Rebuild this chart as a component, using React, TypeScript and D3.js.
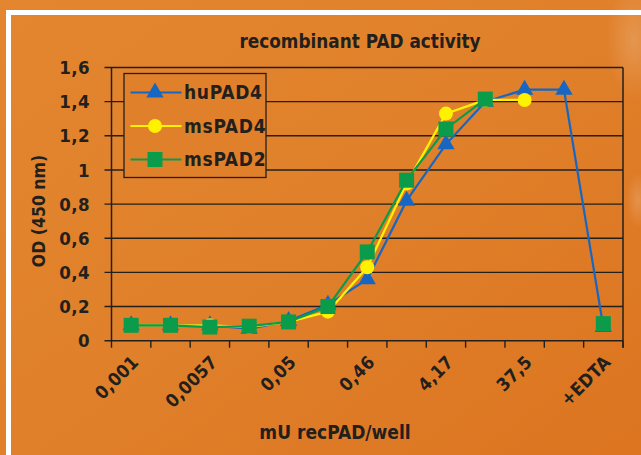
import React from "react";
import * as d3 from "d3";

// concentration categories (only every other one gets a label, like Excel did)
const categories = [
  "0,001", "0,0019", "0,0057", "0,017", "0,05", "0,15", "0,46",
  "1,39", "4,17", "12,5", "37,5", "112,5", "+EDTA",
];

const huPAD4 = [0.09, 0.09, 0.09, 0.07, 0.115, 0.21, 0.36, 0.82, 1.15, 1.4, 1.47, 1.47, 0.08];
const msPAD4 = [0.09, 0.09, 0.09, 0.08, 0.11, 0.17, 0.43, 0.92, 1.33, 1.41, 1.41, null, null];
const msPAD2 = [0.09, 0.09, 0.08, 0.085, 0.11, 0.2, 0.52, 0.94, 1.24, 1.415, null, null, 0.1];

const yTicks = [0, 0.2, 0.4, 0.6, 0.8, 1, 1.2, 1.4, 1.6];

const series = [
  { name: "huPAD4", values: huPAD4, color: "#1767c2", marker: "triangle" },
  { name: "msPAD4", values: msPAD4, color: "#fff200", marker: "circle" },
  { name: "msPAD2", values: msPAD2, color: "#0a9c4a", marker: "square" },
];

const W = 641;
const H = 455;
const font = "'DejaVu Sans Condensed', 'DejaVu Sans', sans-serif";
const ink = "#231f1c";

const plot = { left: 111.5, right: 623, top: 67.5, bottom: 340.7 };

const fmt = (v: number) => String(v).replace(".", ",");

const Marker = ({ type, x, y, color }: { type: string; x: number; y: number; color: string }) => {
  if (type === "triangle") {
    const sym = d3.symbol(d3.symbolTriangle, 130)();
    return <path d={sym || ""} transform={`translate(${x},${y})`} fill={color} />;
  }
  if (type === "circle") return <circle cx={x} cy={y} r={7} fill={color} />;
  return <rect x={x - 7.5} y={y - 7.5} width={15} height={15} fill={color} />;
};

export default function App() {
  const x = d3
    .scaleBand<string>()
    .domain(categories)
    .range([plot.left, plot.right])
    .padding(0);
  const y = d3.scaleLinear().domain([0, 1.6]).range([plot.bottom, plot.top]);

  const cx = (i: number) => (x(categories[i]) as number) + x.bandwidth() / 2;

  const line = d3
    .line<number | null>()
    .defined((d) => d != null)
    .x((_, i) => cx(i))
    .y((d) => y(d as number));

  const tickXs = categories.map((c) => x(c) as number).concat([plot.right]);

  const legend = { x: 124, y: 73.5, w: 142, h: 104 };

  return (
    <div style={{ position: "absolute", left: 0, top: 0 }}>
      <svg width={W} height={H} style={{ display: "block" }}>
        <defs>
          <linearGradient id="bg" x1="0" y1="0" x2="1" y2="1">
            <stop offset="0" stopColor="#e3862f" />
            <stop offset="0.5" stopColor="#e0802a" />
            <stop offset="1" stopColor="#dc7420" />
          </linearGradient>
          <radialGradient id="shine" cx="0.5" cy="0.5" r="0.5">
            <stop offset="0" stopColor="#ffffff" stopOpacity="0.18" />
            <stop offset="1" stopColor="#ffffff" stopOpacity="0" />
          </radialGradient>
        </defs>
        <rect x={0} y={0} width={W} height={H} fill="url(#bg)" />
        <ellipse cx={634} cy={40} rx={28} ry={60} fill="url(#shine)" />
        <ellipse cx={638} cy={200} rx={12} ry={28} fill="url(#shine)" />
        {/* white frame of the photographed slide */}
        <rect x={6} y={10} width={W - 6} height={5} fill="#ffffff" />
        <rect x={6} y={10} width={5} height={H - 10} fill="#ffffff" />

        <text
          x={360}
          y={48}
          textAnchor="middle"
          fontFamily={font}
          fontWeight="bold"
          fontSize={18.8}
          fill={ink}
        >
          recombinant PAD activity
        </text>

        {/* gridlines + y ticks */}
        {yTicks.map((t) => (
          <g key={t}>
            <line x1={plot.left - 7} x2={plot.right} y1={y(t)} y2={y(t)} stroke={ink} strokeWidth={1.4} />
            <text
              x={90}
              y={y(t)}
              dy="0.36em"
              textAnchor="end"
              fontFamily={font}
              fontWeight="bold"
              fontSize={18.5}
              letterSpacing={0.4}
              fill={ink}
            >
              {fmt(t)}
            </text>
          </g>
        ))}
        <line x1={plot.left} x2={plot.left} y1={plot.top} y2={plot.bottom} stroke={ink} strokeWidth={1.5} />
        <line x1={plot.right} x2={plot.right} y1={plot.top} y2={plot.bottom + 7} stroke={ink} strokeWidth={1.5} />
        {tickXs.map((tx, i) => (
          <line key={i} x1={tx} x2={tx} y1={plot.bottom} y2={plot.bottom + 7} stroke={ink} strokeWidth={1.4} />
        ))}

        {/* x labels */}
        {categories.map((c, i) =>
          i % 2 === 0 ? (
            <text
              key={c}
              transform={`translate(${cx(i) + 4},${plot.bottom + 18}) rotate(-45)`}
              textAnchor="end"
              dy="0.36em"
              fontFamily={font}
              fontWeight="bold"
              fontSize={18}
              letterSpacing={0.3}
              fill={ink}
            >
              {c}
            </text>
          ) : null
        )}

        <text
          transform={`translate(39,211) rotate(-90)`}
          textAnchor="middle"
          dy="0.36em"
          fontFamily={font}
          fontWeight="bold"
          fontSize={17.5}
          fill={ink}
        >
          OD (450 nm)
        </text>
        <text
          x={335}
          y={439}
          textAnchor="middle"
          fontFamily={font}
          fontWeight="bold"
          fontSize={19}
          fill={ink}
        >
          mU recPAD/well
        </text>

        {/* series */}
        {series.map((s) => (
          <g key={s.name}>
            <path d={line(s.values) || ""} fill="none" stroke={s.color} strokeWidth={2.2} />
            {s.values.map((v, i) =>
              v == null ? null : <Marker key={i} type={s.marker} x={cx(i)} y={y(v)} color={s.color} />
            )}
          </g>
        ))}

        {/* legend */}
        <rect
          x={legend.x}
          y={legend.y}
          width={legend.w}
          height={legend.h}
          fill="#e0802a"
          stroke={ink}
          strokeWidth={1.3}
        />
        {series.map((s, i) => {
          const ly = 92.5 + i * 33.5;
          return (
            <g key={s.name}>
              <line x1={130.5} x2={181.5} y1={ly} y2={ly} stroke={s.color} strokeWidth={2.2} />
              <Marker type={s.marker} x={155} y={ly} color={s.color} />
              <text
                x={184}
                y={ly}
                dy="0.36em"
                fontFamily={font}
                fontWeight="bold"
                fontSize={19}
                letterSpacing={0.7}
                fill={ink}
              >
                {s.name}
              </text>
            </g>
          );
        })}
      </svg>
    </div>
  );
}
